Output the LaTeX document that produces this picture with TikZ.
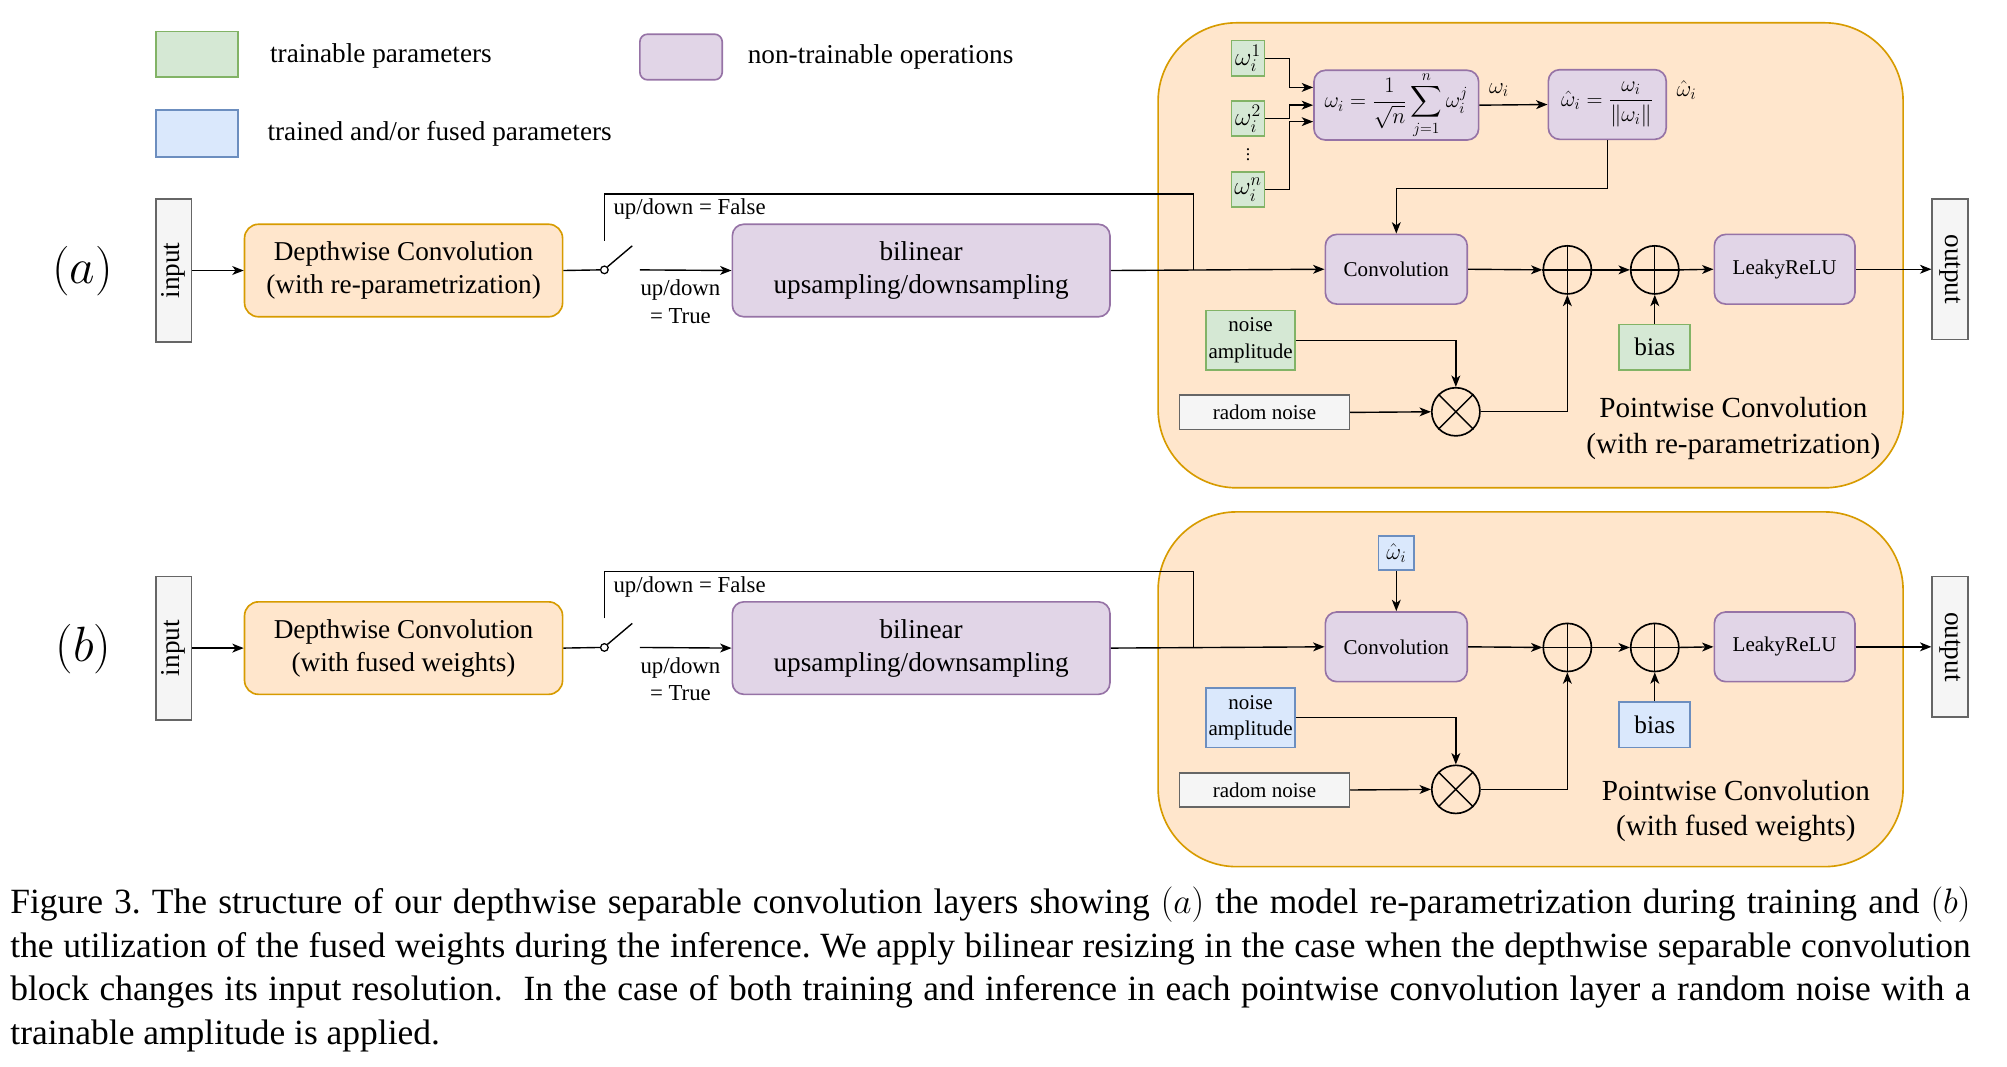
\RequirePackage{fix-cm}
\documentclass[tikz,border=0pt]{standalone}
\usepackage{amsmath}
\usepackage{fontspec}
\setmainfont{Liberation Serif}
\usetikzlibrary{arrows.meta,calc}
\definecolor{tgf}{HTML}{D5E8D4}\definecolor{tgd}{HTML}{82B366}
\definecolor{fbf}{HTML}{DAE8FC}\definecolor{fbd}{HTML}{6C8EBF}
\definecolor{opf}{HTML}{E1D5E7}\definecolor{opd}{HTML}{9673A6}
\definecolor{orf}{HTML}{FFE6CC}\definecolor{ord}{HTML}{D79B00}
\definecolor{grf}{HTML}{F5F5F5}\definecolor{grd}{HTML}{666666}
\frenchspacing
\newcommand\pwrow[3]{%
 \node[gr, sz={28}{113}] (in#1) at (137,213.5) {};
 \node[rotate=90, fL] (int#1) at (in#1.center) {input};
 \node[orb, sz={251}{73}, fL] (dw#1) at (318.5,213.5) {Depthwise Convolution\\#2};
 \node[circle, draw, line width=1pt, minimum size=6pt, inner sep=0pt, fill=white] (sw#1) at (477,213) {};
 \coordinate (swt#1) at (499,194);
 \coordinate (fs#1) at (477,190);
 \coordinate (ft#1) at (942,153);
 \coordinate (j#1) at (942,213);
 \coordinate (tr#1) at (505,213);
 \node[anchor=west, fM, inner sep=0pt] (fl#1) at (484,165) {up/down = False};
 \node[fM, align=center, inner sep=0pt] (tl#1) at (537,238) {up/down\\= True};
 \node[op, sz={298}{73}, fL] (bi#1) at (727,213.5) {bilinear\\upsampling/downsampling};
 \node[op, sz={112}{55}, fS] (conv#1) at (1102,212.5) {Convolution};
 \node[sumc] (p1#1) at (1237,213) {};
 \node[sumc] (p2#1) at (1306,213) {};
 \node[op, sz={111}{55}, fS] (lr#1) at (1408.5,212.5) {LeakyReLU};
 \node[gr, sz={28}{111}] (out#1) at (1539,212.5) {};
 \node[rotate=-90, fL] (outt#1) at (out#1.center) {output};
 \node[#3, sz={70}{47}, fS] (na#1) at (987,268.5) {noise\\amplitude};
 \node[gr, sz={134}{27}, fS] (rn#1) at (998,325.5) {radom noise};
 \node[sumc] (t#1) at (1149,325) {};
 \node[#3, sz={56}{36}, fB] (bias#1) at (1306,274) {bias};
 \draw[arr] (in#1.east) -- (dw#1.west);
 \draw[ln] (dw#1.east) -- (sw#1.west);
 \draw[ln] (sw#1.north east) -- (swt#1);
 \draw[ln] (fs#1) |- (ft#1) -- (j#1);
 \draw[arr] (tr#1) -- (bi#1.west);
 \draw[arr] (bi#1.east) -- (conv#1.west);
 \draw[arr] (conv#1.east) -- (p1#1.west);
 \draw[arr] (p1#1.east) -- (p2#1.west);
 \draw[arr] (p2#1.east) -- (lr#1.west);
 \draw[arr] (lr#1.east) -- (out#1.west);
 \draw[arr] (na#1.east) -| (t#1.north);
 \draw[arr] (rn#1.east) -- (t#1.west);
 \draw[arr] (t#1.east) -| (p1#1.south);
 \draw[arr] (bias#1.north) -- (p2#1.south);
 \draw[ln] (p1#1.north) -- (p1#1.south) (p1#1.west) -- (p1#1.east);
 \draw[ln] (p2#1.north) -- (p2#1.south) (p2#1.west) -- (p2#1.east);
 \draw[ln] (t#1.45) -- (t#1.225) (t#1.135) -- (t#1.315);
}
\begin{document}
\begin{tikzpicture}[x=1pt,y=-1pt,
 arr/.style={-{Stealth[length=9pt,width=7pt,inset=2.5pt]}, line width=1.1pt},
 ln/.style={line width=1.1pt},
 bx/.style={inner sep=0pt, line width=1.3pt, align=center},
 tr/.style={bx, fill=tgf, draw=tgd},
 fu/.style={bx, fill=fbf, draw=fbd},
 op/.style={bx, fill=opf, draw=opd, rounded corners=9pt},
 orb/.style={bx, fill=orf, draw=ord, rounded corners=11pt},
 gr/.style={bx, fill=grf, draw=grd},
 cont/.style={fill=orf, draw=ord, line width=1.3pt, rounded corners=62pt, inner sep=0pt},
 sumc/.style={circle, draw, line width=1.3pt, minimum size=38pt, inner sep=0pt},
 sz/.style 2 args={minimum width=#1pt, minimum height=#2pt},
 fL/.style={font=\fontsize{21.5}{26}\selectfont},
 fS/.style={font=\fontsize{16.6}{21}\selectfont},
 fM/.style={font=\fontsize{18}{22}\selectfont},
 fW/.style={font=\fontsize{20}{22}\selectfont},
 fB/.style={font=\fontsize{20}{24}\selectfont},
 fP/.style={font=\fontsize{23}{28}\selectfont},
 fF/.style={font=\fontsize{17.5}{20}\selectfont},
]
\useasboundingbox (0,0) rectangle (1584,842);
% legend
\node[tr, sz={65}{36}] (lgG) at (155.5,43) {};
\node[fL, anchor=west, inner sep=0pt] (lgGt) at (213,44) {trainable parameters};
\node[fu, sz={65}{37}] (lgB) at (155.5,105.5) {};
\node[fL, anchor=west, inner sep=0pt] (lgBt) at (211,106) {trained and/or fused parameters};
\node[op, sz={65}{36}, rounded corners=6pt] (lgP) at (537.5,45) {};
\node[fL, anchor=west, inner sep=0pt] (lgPt) at (590,45) {non-trainable operations};
% containers
\node[cont, minimum width=588pt, minimum height=367pt] (pwA) at (1208,201.5) {};
\node[cont, minimum width=588pt, minimum height=280pt] (pwB) at (1208,544) {};
% panel labels
\node[font=\fontsize{34}{40}\selectfont, scale=1.15] (labA) at (65,214) {$(a)$};
\node[font=\fontsize{34}{40}\selectfont, scale=1.15] (labB) at (66,512) {$(b)$};
% panel a
\pwrow{A}{(with re-parametrization)}{tr}
\node[tr, sz={26}{28}, fW] (w1A) at (985,46) {$\omega_i^1$};
\node[tr, sz={26}{28}, fW] (w2A) at (985,93.5) {$\omega_i^2$};
\node[font=\fontsize{14}{16}\selectfont, inner sep=0pt] (dotsA) at (985,119) {$\vdots$};
\node[tr, sz={26}{28}, fW] (wnA) at (985,149.5) {$\omega_i^n$};
\node[op, sz={130}{55}, fF] (fA) at (1102,83) {$\displaystyle \omega_i=\frac{1}{\sqrt{n}}\sum_{j=1}^{n}\omega_i^j$};
\node[op, sz={93}{55}, fF] (nA) at (1268.5,82.5) {$\displaystyle \hat\omega_i=\frac{\omega_i}{\|\omega_i\|}$};
\node[fM] (lwA) at (1183,71) {$\omega_i$};
\node[fM] (lwhA) at (1331,71) {$\hat\omega_i$};
\draw[arr] (w1A.east) -- ++(19,0) |- ([yshift=14pt]fA.west);
\draw[arr] (w2A.east) -- ++(19,0) |- (fA.west);
\draw[arr] (wnA.east) -- ++(19,0) |- ([yshift=-13pt]fA.west);
\draw[arr] (fA.east) -- (nA.west);
\draw[arr] (nA.south) -- ++(0,38) -| (convA.north);
\node[fP, align=center] (pwtA) at (1368,338) {Pointwise Convolution\\(with re-parametrization)};
% panel b
\begin{scope}[yshift=-298pt]
\pwrow{B}{(with fused weights)}{fu}
\node[fu, sz={28}{27}, fM] (whB) at (1102,138.5) {$\hat\omega_i$};
\draw[arr] (whB.south) -- (convB.north);
\node[fP, align=center] (pwtB) at (1370,342) {Pointwise Convolution\\(with fused weights)};
\end{scope}
% caption
\node[anchor=north west, inner sep=0pt, text width=1547pt, align=justify, font=\fontsize{28}{34.3}\selectfont] (cap) at (8,700) {Figure 3. The structure of our depthwise separable convolution layers showing $(a)$ the model re-parametrization during training and $(b)$\linebreak the utilization of the fused weights during the inference. We apply bilinear resizing in the case when the depthwise separable convolution\linebreak block changes its input resolution.\ \ In the case of both training and inference in each pointwise convolution layer a random noise with a\linebreak trainable amplitude is applied.};
\end{tikzpicture}
\end{document}
